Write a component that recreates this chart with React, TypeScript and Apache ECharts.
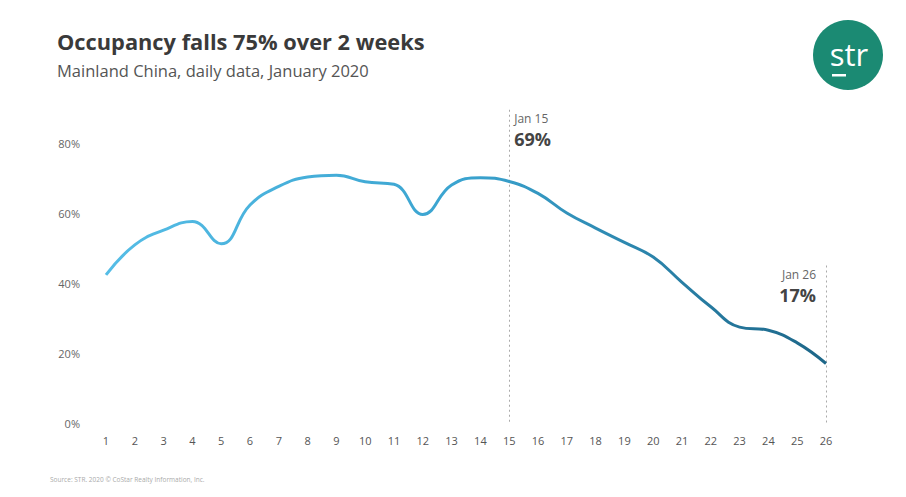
import React, { useEffect, useRef } from "react";
import * as echarts from "echarts";

const days = ["1","2","3","4","5","6","7","8","9","10","11","12","13","14","15","16","17","18","19","20","21","22","23","24","25","26"];
const occupancy = [42.3, 50.9, 55.1, 57.6, 51.2, 62.3, 67.6, 70.3, 70.8, 68.9, 68.2, 59.6, 68.0, 70.1, 69.0, 65.6, 60.0, 55.7, 51.6, 47.4, 40.2, 33.2, 27.4, 26.5, 22.9, 17.0];
const yTicks = [0, 20, 40, 60, 80];
const annotations = [
  { day: "15", top: 89.5, date: "Jan 15", value: "69%", side: "right" },
  { day: "26", top: 45, date: "Jan 26", value: "17%", side: "left" },
];

export default function App() {
  const ref = useRef<HTMLDivElement>(null);
  useEffect(() => {
    const chart = echarts.init(ref.current!, null, { renderer: "svg" });
    const font = "'Open Sans', 'Noto Sans', sans-serif";
    chart.setOption({
      animation: false,
      textStyle: { fontFamily: font },
      grid: { left: 106, right: 80, top: 143, bottom: 74 },
      xAxis: {
        type: "category",
        data: days,
        boundaryGap: false,
        axisLine: { show: false },
        axisTick: { show: false },
        axisLabel: { color: "#555", fontSize: 11, margin: 12, fontFamily: font },
      },
      yAxis: {
        type: "value",
        min: yTicks[0],
        max: yTicks[yTicks.length - 1],
        interval: 20,
        splitLine: { show: false },
        axisLabel: { color: "#666", fontSize: 11, margin: 26, formatter: "{value}%", fontFamily: font },
      },
      series: [
        {
          type: "line",
          data: occupancy,
          smooth: 0.45,
          symbol: "none",
          clip: false,
          z: 3,
          lineStyle: {
            width: 3,
            color: new echarts.graphic.LinearGradient(0, 0, 1, 0, [
              { offset: 0, color: "#55bde6" },
              { offset: 0.5, color: "#3aa3cf" },
              { offset: 1, color: "#1d6688" },
            ]),
          },
        },
      ],
    });
    const graphics: any[] = [
      { type: "text", left: 57, top: 30, style: { text: "Occupancy falls 75% over 2 weeks", fontFamily: font, fontWeight: "bold", fontSize: 21.8, fill: "#3a3a3a" } },
      { type: "text", left: 57, top: 62, style: { text: "Mainland China, daily data, January 2020", fontFamily: font, fontSize: 16.5, fill: "#555" } },
      { type: "text", left: 50, top: 476, style: { text: "Source: STR. 2020 © CoStar Realty Information, Inc.", fontFamily: font, fontSize: 6.5, fill: "#aaa" } },
      { type: "circle", shape: { cx: 848, cy: 55, r: 35 }, style: { fill: "#1b8a73" } },
      { type: "text", x: 849, y: 54, style: { text: "str", fontFamily: font, fontSize: 31, fill: "#fff", align: "center", verticalAlign: "middle" } },
      { type: "rect", shape: { x: 832, y: 74, width: 14, height: 2.5 }, style: { fill: "#fff" } },
    ];
    annotations.forEach((a) => {
      const p = chart.convertToPixel({ gridIndex: 0 }, [a.day, a.top]) as number[];
      const b = chart.convertToPixel({ gridIndex: 0 }, [a.day, 0]) as number[];
      graphics.push({
        type: "line",
        z: 1,
        shape: { x1: Math.round(p[0]) + 0.5, y1: p[1], x2: Math.round(b[0]) + 0.5, y2: b[1] },
        style: { stroke: "#aaa", lineWidth: 1, lineDash: [2, 3] },
      });
      const right = a.side === "right";
      const x = right ? p[0] + 5 : p[0] - 10;
      const align = right ? "left" : "right";
      graphics.push({ type: "text", x, y: p[1] + 3, style: { text: a.date, fontFamily: font, fontSize: 12, fill: "#666", align } });
      graphics.push({ type: "text", x, y: p[1] + 20, style: { text: a.value, fontFamily: font, fontSize: 18, fontWeight: "bold", fill: "#444", align } });
    });
    chart.setOption({ graphic: graphics });
    return () => chart.dispose();
  }, []);
  return <div ref={ref} style={{ width: 906, height: 497, position: "absolute", left: 0, top: 0 }} />;
}
